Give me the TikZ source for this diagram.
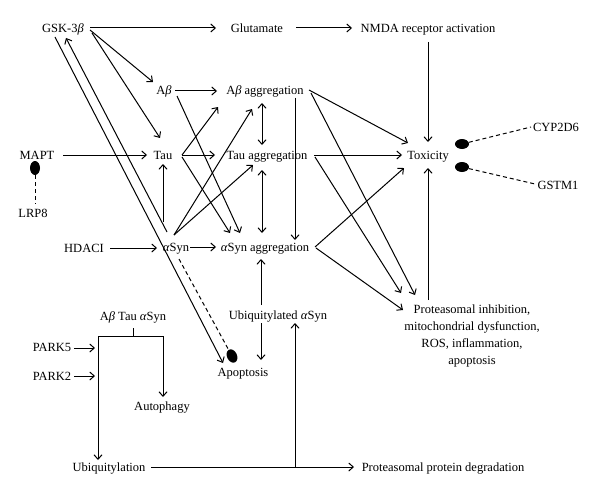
\documentclass[tikz,border=0pt]{standalone}
\usepackage{fontspec}
\setmainfont{Liberation Serif}
\usetikzlibrary{arrows.meta,calc,shapes.geometric}
\newcommand{\gbeta}{\textit{β}}
\newcommand{\galpha}{\textit{α}}
\begin{document}
\begin{tikzpicture}[x=1pt,y=-1pt,
  lbl/.style={font=\fontsize{12.5}{17}\selectfont, inner sep=0pt, text height=9pt, text depth=0pt},
  mlbl/.style={font=\fontsize{12.5}{17}\selectfont, inner sep=0pt, align=center},
  arr/.style={line width=1pt, -{Straight Barb[length=4.5pt,width=8pt]}},
  darr/.style={line width=1pt, {Straight Barb[length=4.5pt,width=8pt]}-{Straight Barb[length=4.5pt,width=8pt]}},
  ln/.style={line width=1pt},
  dsh/.style={line width=1pt, dash pattern=on 4pt off 3pt},
  blob/.style={ellipse, fill=black, inner sep=0pt}]
\useasboundingbox (0,0) rectangle (600,495);
% nodes
\node[lbl] (gsk) at (63,28) {GSK-3\gbeta};
\node[lbl] (glu) at (257,28) {Glutamate};
\node[lbl] (nmda) at (428,28) {NMDA receptor activation};
\node[lbl] (ab) at (164,90) {A\gbeta};
\node[lbl] (abagg) at (265,90) {A\gbeta\ aggregation};
\node[lbl] (mapt) at (37,155) {MAPT};
\node[lbl] (tau) at (163,155) {Tau};
\node[lbl] (tauagg) at (267,155) {Tau aggregation};
\node[lbl] (tox) at (428,155) {Toxicity};
\node[lbl] (lrp8) at (33,213) {LRP8};
\node[lbl] (hdaci) at (84,248) {HDACI};
\node[lbl] (asyn) at (176,247) {\galpha Syn};
\node[lbl] (asynagg) at (265,247) {\galpha Syn aggregation};
\node[lbl] (cyp) at (556,127) {CYP2D6};
\node[lbl] (gstm) at (558,185) {GSTM1};
\node[lbl] (ubasyn) at (278,315) {Ubiquitylated \galpha Syn};
\node[lbl] (apop) at (243,372) {Apoptosis};
\node[mlbl, anchor=north] (prot) at (472,305) {Proteasomal inhibition,\\mitochondrial dysfunction,\\ROS, inflammation,\\apoptosis};
\node[lbl] (abtau) at (133,316) {A\gbeta\ Tau \galpha Syn};
\node[lbl] (park5) at (52,347) {PARK5};
\node[lbl] (park2) at (52,376) {PARK2};
\node[lbl] (auto) at (162,406) {Autophagy};
\node[lbl] (ubiq) at (109,467) {Ubiquitylation};
\node[lbl] (ppd) at (443,467) {Proteasomal protein degradation};
% blobs
\node[blob, minimum width=10pt, minimum height=14pt] (b1) at (35,168) {};
\node[blob, minimum width=14pt, minimum height=10pt] (b2) at (462,144) {};
\node[blob, minimum width=14pt, minimum height=10pt] (b3) at (462,167) {};
\node[blob, minimum width=10pt, minimum height=14pt, rotate=25] (b4) at (232,356) {};
% helper coordinates
\coordinate (brL) at (98,336);
\coordinate (brR) at (163,336);
\coordinate (brM) at (133,336);
\coordinate (p5) at (95,348);
\coordinate (p2) at (95,376);
\coordinate (jn) at (295,467);
% connectors
\draw[arr] ($(gsk)+(27,0)$) -- ($(glu)+(-41,0)$);
\draw[arr] ($(glu)+(39,0)$) -- ($(nmda)+(-76,0)$);
\draw[arr] ($(nmda)+(0,14)$) -- ($(tox)+(0,-13)$);
\draw[arr] ($(gsk)+(27,2)$) -- ($(ab)+(-11,-8)$);
\draw[arr] ($(gsk)+(29,5)$) -- ($(tau)+(-3,-17)$);
\draw[arr] ($(gsk)+(-8,9)$) -- ($(apop)+(-20,-9)$);
\draw[arr] ($(asyn)+(-9,-15)$) -- ($(gsk)+(3,10)$);
\draw[dsh] ($(asyn)+(3,12)$) -- (b4);
\draw[arr] ($(mapt)+(26,0)$) -- ($(tau)+(-16,0)$);
\draw[dsh] (b1) -- ($(lrp8)+(2,-9)$);
\draw[arr] ($(asyn)+(-13,-25)$) -- ($(tau)+(0,9)$);
\draw[arr] ($(ab)+(11,1)$) -- ($(abagg)+(-48,1)$);
\draw[arr] ($(ab)+(13,6)$) -- ($(asynagg)+(-25,-14)$);
\draw[arr] ($(tau)+(19,0)$) -- ($(abagg)+(-47,17)$);
\draw[arr] ($(tau)+(19,0)$) -- ($(tauagg)+(-52,0)$);
\draw[arr] ($(tau)+(19,2)$) -- ($(asynagg)+(-35,-14)$);
\draw[arr] ($(asyn)+(-2,-12)$) -- ($(abagg)+(-13,19)$);
\draw[arr] ($(asyn)+(-2,-12)$) -- ($(tauagg)+(-14,10)$);
\draw[arr] ($(hdaci)+(26,0)$) -- ($(asyn)+(-19,1)$);
\draw[arr] ($(asyn)+(14,0)$) -- ($(asynagg)+(-49,0)$);
\draw[darr] ($(abagg)+(-3,13)$) -- ($(tauagg)+(-5,-10)$);
\draw[darr] ($(tauagg)+(-5,15)$) -- ($(asynagg)+(-3,-14)$);
\draw[arr] ($(abagg)+(30,8)$) -- ($(asynagg)+(30,-7)$);
\draw[arr] ($(ubasyn)+(-17,-10)$) -- ($(asynagg)+(-4,12)$);
\draw[arr] ($(ubasyn)+(-17,8)$) -- ($(apop)+(18,-12)$);
\draw[arr] ($(abagg)+(44,0)$) -- ($(tox)+(-20,-12)$);
\draw[arr] ($(tauagg)+(47,0)$) -- ($(tox)+(-26,0)$);
\draw[arr] ($(asynagg)+(50,0)$) -- ($(tox)+(-24,13)$);
\draw[arr] ($(abagg)+(46,3)$) -- ($(prot.north)+(-57,-10)$);
\draw[arr] ($(tauagg)+(48,2)$) -- ($(prot.north)+(-71,-12)$);
\draw[arr] ($(asynagg)+(51,1)$) -- ($(prot.north)+(-69,5)$);
\draw[arr] ($(prot.north)+(-44,-5)$) -- ($(tox)+(0,13)$);
\draw[dsh] (b2) -- ($(cyp)+(-25,0)$);
\draw[dsh] (b3) -- ($(gstm)+(-23,-1)$);
\draw[ln] ($(abtau)+(0,12)$) -- (brM);
\draw[ln] (brL) -- (brR);
\draw[arr] (brL) -- ($(ubiq)+(-11,-7)$);
\draw[arr] (brR) -- ($(auto)+(1,-9)$);
\draw[arr] ($(park5)+(22,1)$) -- (p5);
\draw[arr] ($(park2)+(22,0)$) -- (p2);
\draw[arr] ($(ubiq)+(42,0)$) -- ($(ppd)+(-89,0)$);
\draw[arr] (jn) -- ($(ubasyn)+(17,8)$);
\end{tikzpicture}
\end{document}
